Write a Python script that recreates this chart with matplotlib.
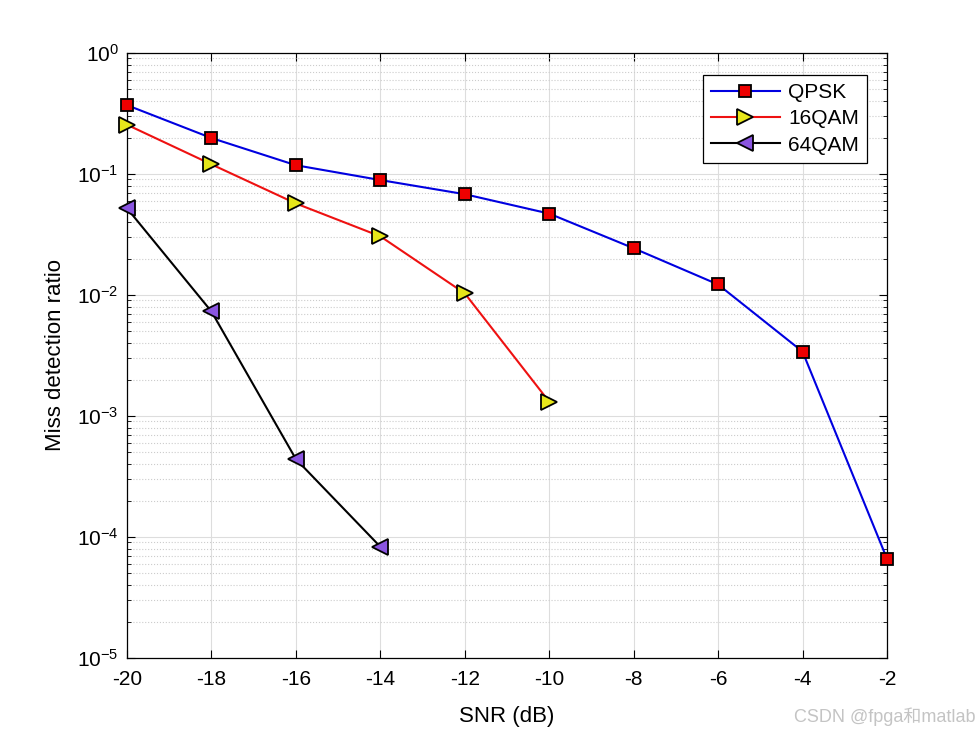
import matplotlib.pyplot as plt
import numpy as np

plt.rcParams['font.family'] = ['Liberation Sans', 'Noto Sans CJK SC', 'DejaVu Sans']
plt.rcParams['axes.unicode_minus'] = False

snr_qpsk = [-20, -18, -16, -14, -12, -10, -8, -6, -4, -2]
qpsk = [0.37, 0.198, 0.118, 0.089, 0.068, 0.047, 0.0243, 0.0122, 0.0034, 6.6e-5]
snr_16 = [-20, -18, -16, -14, -12, -10]
qam16 = [0.255, 0.12, 0.057, 0.0305, 0.0103, 0.00131]
snr_64 = [-20, -18, -16, -14]
qam64 = [0.052, 0.0073, 4.4e-4, 8.3e-5]

fig = plt.figure(figsize=(9.8, 7.35), dpi=100)
ax = fig.add_axes([0.1296, 0.1048, 0.7755, 0.8232])

ax.semilogy(snr_qpsk, qpsk, color='#0000e0', linewidth=1.5, marker='s', markersize=8,
            markerfacecolor='#ee0000', markeredgecolor='black', markeredgewidth=1.3,
            label='QPSK', clip_on=False, zorder=3)
ax.semilogy(snr_16, qam16, color='#ee1111', linewidth=1.5, marker='>', markersize=11,
            markerfacecolor='#e6e61a', markeredgecolor='black', markeredgewidth=1.3,
            label='16QAM', clip_on=False, zorder=3)
ax.semilogy(snr_64, qam64, color='black', linewidth=1.5, marker='<', markersize=11,
            markerfacecolor='#8a55e0', markeredgecolor='black', markeredgewidth=1.3,
            label='64QAM', clip_on=False, zorder=3)

ax.set_xlim(-20, -2)
ax.set_ylim(1e-5, 1)
ax.set_xticks(np.arange(-20, -1, 2))
ax.grid(True, which='major', color='#dddddd', linewidth=0.8)
ax.grid(True, which='minor', color='#cccccc', linestyle=':', linewidth=0.8)
ax.tick_params(which='both', direction='in', top=True, right=True, labelsize=15)
ax.tick_params(which='major', length=6)
ax.tick_params(which='minor', length=3)
ax.tick_params(axis='x', pad=9)
ax.tick_params(axis='y', pad=6)
for s in ax.spines.values():
    s.set_linewidth(0.9)
ax.set_xlabel('SNR (dB)', fontsize=16, labelpad=12)
ax.set_ylabel('Miss detection ratio', fontsize=16, labelpad=8)

leg = ax.legend(loc='upper right', bbox_to_anchor=(0.974, 0.964), borderaxespad=0,
                fontsize=15, fancybox=False, edgecolor='black', framealpha=1,
                handlelength=3.3, borderpad=0.4, labelspacing=0.35, handletextpad=0.4)
leg.get_frame().set_linewidth(0.9)

fig.text(0.995, 0.012, 'CSDN @fpga和matlab', color='#c4c4c4', fontsize=13, ha='right', va='bottom')

plt.savefig('out.png')
